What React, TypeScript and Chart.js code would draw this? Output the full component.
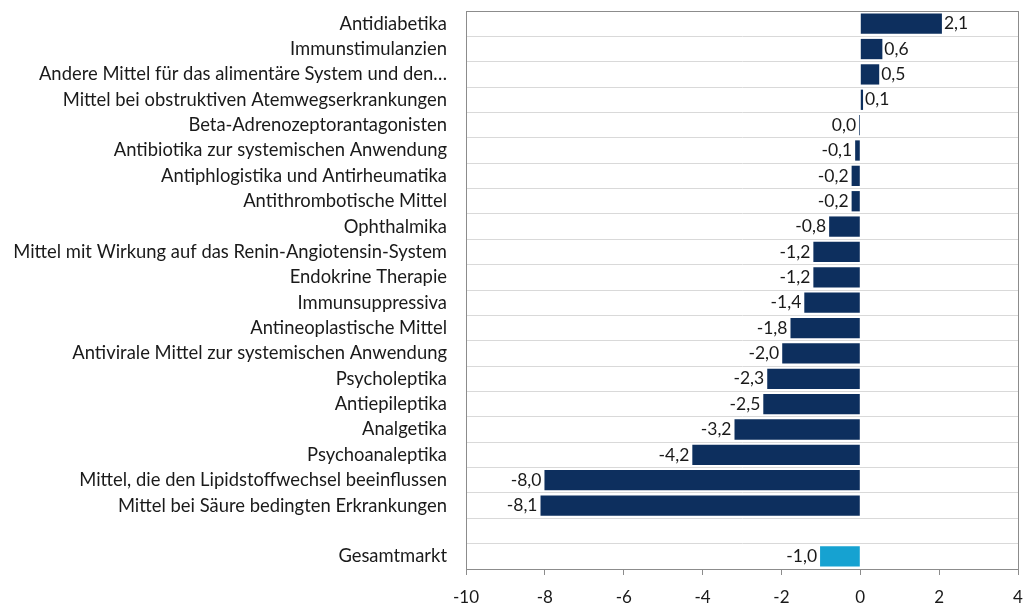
import React, { useEffect, useRef } from "react";
import { Chart, registerables } from "chart.js";

Chart.register(...registerables);

const categories = [
  "Antidiabetika",
  "Immunstimulanzien",
  "Andere Mittel für das alimentäre System und den…",
  "Mittel bei obstruktiven Atemwegserkrankungen",
  "Beta-Adrenozeptorantagonisten",
  "Antibiotika zur systemischen Anwendung",
  "Antiphlogistika und Antirheumatika",
  "Antithrombotische Mittel",
  "Ophthalmika",
  "Mittel mit Wirkung auf das Renin-Angiotensin-System",
  "Endokrine Therapie",
  "Immunsuppressiva",
  "Antineoplastische Mittel",
  "Antivirale Mittel zur systemischen Anwendung",
  "Psycholeptika",
  "Antiepileptika",
  "Analgetika",
  "Psychoanaleptika",
  "Mittel, die den Lipidstoffwechsel beeinflussen",
  "Mittel bei Säure bedingten Erkrankungen",
  "",
  "Gesamtmarkt",
];

const values: (number | null)[] = [
  2.07, 0.56, 0.48, 0.07, -0.03, -0.13, -0.22, -0.22, -0.79, -1.19, -1.19, -1.42,
  -1.77, -1.98, -2.36, -2.46, -3.19, -4.26, -8.01, -8.11, null, -1.02,
];

const valueLabels = [
  "2,1", "0,6", "0,5", "0,1", "0,0", "-0,1", "-0,2", "-0,2", "-0,8", "-1,2", "-1,2", "-1,4",
  "-1,8", "-2,0", "-2,3", "-2,5", "-3,2", "-4,2", "-8,0", "-8,1", "", "-1,0",
];

const xTicks = [-10, -8, -6, -4, -2, 0, 2, 4];

const DARK = "#0d2f5e";
const LIGHT = "#16a2d1";
const FONT = "Lato, 'Open Sans', sans-serif";

export default function App() {
  const ref = useRef<HTMLCanvasElement | null>(null);

  useEffect(() => {
    document.body.style.margin = "0";
    const canvas = ref.current!;
    const labelPlugin = {
      id: "valLabels",
      afterDatasetsDraw(chart: any) {
        const ctx = chart.ctx;
        const meta = chart.getDatasetMeta(0);
        ctx.save();
        ctx.font = `17.5px ${FONT}`;
        ctx.fillStyle = "#1a1a1a";
        ctx.textBaseline = "middle";
        meta.data.forEach((bar: any, i: number) => {
          const v = values[i];
          if (v === null) return;
          const txt = valueLabels[i];
          if (v >= 0) {
            ctx.textAlign = "left";
            ctx.fillText(txt, bar.x + 2, bar.y);
          } else {
            ctx.textAlign = "right";
            ctx.fillText(txt, bar.x - 3, bar.y);
          }
        });
        ctx.restore();
      },
      afterDraw(chart: any) {
        const { ctx, chartArea: a } = chart;
        ctx.save();
        ctx.strokeStyle = "#8c8c8c";
        ctx.lineWidth = 1;
        ctx.strokeRect(Math.round(a.left) + 0.5, Math.round(a.top) + 0.5, Math.round(a.right - a.left), Math.round(a.bottom - a.top));
        ctx.restore();
      },
    };

    const chart = new Chart(canvas, {
      type: "bar",
      data: {
        labels: categories,
        datasets: [
          {
            data: values,
            backgroundColor: values.map((_, i) => (i === values.length - 1 ? LIGHT : DARK)),
            barPercentage: 0.8,
            categoryPercentage: 1,
            borderWidth: 0,
          },
        ],
      },
      options: {
        indexAxis: "y",
        animation: false,
        responsive: false,
        maintainAspectRatio: false,
        layout: { padding: { top: 11, right: 8, left: 0, bottom: 0 } },
        plugins: { legend: { display: false }, tooltip: { enabled: false } },
        scales: {
          x: {
            min: -10,
            max: 4,
            afterBuildTicks(axis: any) {
              axis.ticks = xTicks.map((v) => ({ value: v }));
            },
            afterFit(axis: any) {
              axis.height = 35;
              axis.paddingLeft = 0;
              axis.paddingRight = 0;
            },
            grid: {
              drawOnChartArea: false,
              drawTicks: true,
              tickLength: 6,
              color: "#8c8c8c",
            },
            border: { color: "#8c8c8c" },
            ticks: {
              color: "#1a1a1a",
              font: { family: FONT, size: 17 },
              padding: 12,
              callback: (v: any) => String(v),
            },
          },
          y: {
            afterFit(axis: any) {
              axis.width = 466;
              axis.paddingTop = 0;
              axis.paddingBottom = 0;
            },
            grid: {
              offset: true,
              drawTicks: false,
              color: "#d9d9d9",
            },
            border: { color: "#8c8c8c" },
            ticks: {
              color: "#1a1a1a",
              font: { family: FONT, size: 18.4 },
              padding: 19,
              autoSkip: false,
            },
          },
        },
      },
      plugins: [labelPlugin],
    } as any);
    return () => chart.destroy();
  }, []);

  return (
    <div style={{ width: 1026, height: 604 }}>
      <canvas ref={ref} width={1026} height={604} style={{ display: "block" }} />
    </div>
  );
}
